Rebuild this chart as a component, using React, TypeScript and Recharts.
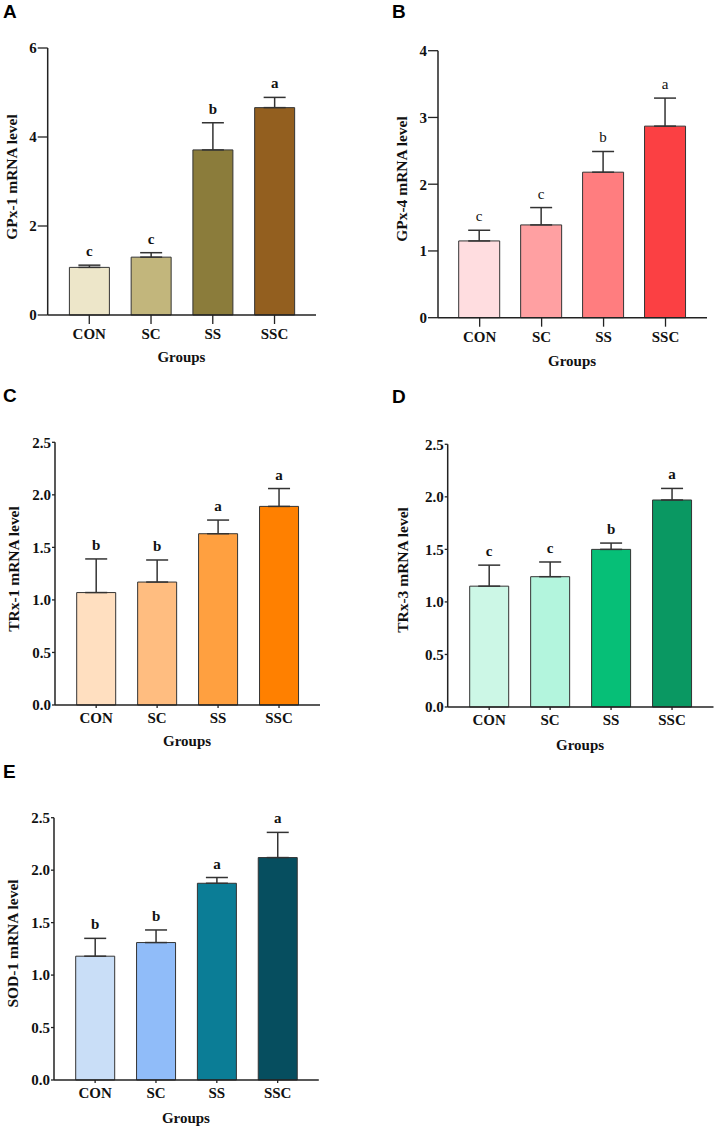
import React from "react";
import { Bar, BarChart, Cell, ErrorBar, Label, LabelList, XAxis, YAxis } from "recharts";

const groups = ["CON", "SC", "SS", "SSC"];

const gpx1Mean = [1.07, 1.3, 3.71, 4.66];
const gpx1Sd = [0.05, 0.1, 0.61, 0.23];
const gpx1Sig = ["c", "c", "b", "a"];

const gpx4Mean = [1.15, 1.39, 2.18, 2.87];
const gpx4Sd = [0.16, 0.26, 0.31, 0.42];
const gpx4Sig = ["c", "c", "b", "a"];

const trx1Mean = [1.07, 1.17, 1.63, 1.89];
const trx1Sd = [0.32, 0.21, 0.13, 0.17];
const trx1Sig = ["b", "b", "a", "a"];

const trx3Mean = [1.15, 1.24, 1.5, 1.97];
const trx3Sd = [0.2, 0.14, 0.06, 0.11];
const trx3Sig = ["c", "c", "b", "a"];

const sod1Mean = [1.18, 1.31, 1.875, 2.12];
const sod1Sd = [0.17, 0.12, 0.055, 0.24];
const sod1Sig = ["b", "b", "a", "a"];

const ticksWhole6 = [0, 2, 4, 6];
const ticksWhole4 = [0, 1, 2, 3, 4];
const ticksHalf = [0, 0.5, 1, 1.5, 2, 2.5];

const serif = "'Liberation Serif', 'Times New Roman', serif";
const sans = "'Liberation Sans', Arial, sans-serif";
const ink = "#222";

const panels = [
  {
    tag: "A", title: "GPx-1 mRNA level", mean: gpx1Mean, sd: gpx1Sd, sig: gpx1Sig,
    colors: ["#ede6c9", "#c2b67c", "#8b7c3b", "#935f1f"],
    ticks: ticksWhole6, yMax: 6, digits: 0, boldSig: true,
    ox: 0, oy: 0, h: 372, plotLeft: 47.7, plotTop: 48, plotBottom: 315, pad: 10.7, band: 61.5, barSize: 40,
    yTick: 10, xTick: 9, tagPos: [3, 18], yLab: [12, 177], groupsY: 362,
  },
  {
    tag: "B", title: "GPx-4 mRNA level", mean: gpx4Mean, sd: gpx4Sd, sig: gpx4Sig,
    colors: ["#ffdde0", "#ffa0a2", "#ff7d7f", "#fb4043"],
    ticks: ticksWhole4, yMax: 4, digits: 0, boldSig: false,
    ox: 357, oy: 0, h: 372, plotLeft: 438, plotTop: 50.7, plotBottom: 317.7, pad: 10.7, band: 61.7, barSize: 41,
    yTick: 10, xTick: 9, tagPos: [392, 18], yLab: [402, 179], groupsY: 366,
  },
  {
    tag: "C", title: "TRx-1 mRNA level", mean: trx1Mean, sd: trx1Sd, sig: trx1Sig,
    colors: ["#ffdfc0", "#ffbd80", "#ffa040", "#ff8000"],
    ticks: ticksHalf, yMax: 2.5, digits: 1, boldSig: true,
    ox: 0, oy: 360, h: 395, plotLeft: 55, plotTop: 442.3, plotBottom: 705, pad: 10.7, band: 60.7, barSize: 39,
    yTick: 3, xTick: 3, tagPos: [3, 402], yLab: [14, 569], groupsY: 746,
  },
  {
    tag: "D", title: "TRx-3 mRNA level", mean: trx3Mean, sd: trx3Sd, sig: trx3Sig,
    colors: ["#ccf7e6", "#b3f5dd", "#06bf77", "#0a9862"],
    ticks: ticksHalf, yMax: 2.5, digits: 1, boldSig: true,
    ox: 357, oy: 360, h: 395, plotLeft: 447.7, plotTop: 444.3, plotBottom: 707, pad: 11, band: 60.7, barSize: 39,
    yTick: 3, xTick: 3, tagPos: [392, 403], yLab: [403, 570], groupsY: 750,
  },
  {
    tag: "E", title: "SOD-1 mRNA level", mean: sod1Mean, sd: sod1Sd, sig: sod1Sig,
    colors: ["#c9def7", "#90bcf9", "#0b7d96", "#064e5f"],
    ticks: ticksHalf, yMax: 2.5, digits: 1, boldSig: true,
    ox: 0, oy: 740, h: 389, plotLeft: 54, plotTop: 817.7, plotBottom: 1080, pad: 10.7, band: 60.6, barSize: 39,
    yTick: 3, xTick: 3, tagPos: [3, 778], yLab: [12.5, 943.5], groupsY: 1123,
  },
];

type PanelCfg = (typeof panels)[number];

const textStyle = { fontFamily: serif, fontWeight: 700, fontSize: 15 };

function Panel({ p }: { p: PanelCfg }) {
  const data = groups.map((g, i) => ({
    group: g,
    mean: p.mean[i],
    err: [0, p.sd[i]],
    sig: p.sig[i],
  }));
  const yw = p.plotLeft - p.ox;
  const top = p.plotTop - p.oy;
  const width = p.plotLeft + 2 * p.pad + 4 * p.band - p.ox + 1;
  const xh = p.h - (p.plotBottom - p.oy);
  const midX = (p.plotLeft + p.pad + 2 * p.band) - p.ox;
  const tickStyle = { fontFamily: serif, fontWeight: 700, fontSize: 15, fill: "#111" };

  const sigLabel = (lp: any) => {
    const vb = lp.viewBox || {};
    const x = lp.x ?? vb.x;
    const y = lp.y ?? vb.y;
    const w = lp.width ?? vb.width;
    const hh = lp.height ?? vb.height;
    const i = lp.index;
    const perUnit = hh / p.mean[i];
    const capY = y - p.sd[i] * perUnit;
    return (
      <text
        x={x + w / 2}
        y={capY - 9}
        textAnchor="middle"
        fill="#111"
        style={{ ...textStyle, fontWeight: p.boldSig ? 700 : 400 }}
      >
        {lp.value}
      </text>
    );
  };

  return (
    <div style={{ position: "absolute", left: p.ox, top: p.oy }}>
      <BarChart
        width={width}
        height={p.h}
        data={data}
        margin={{ top, right: 0, bottom: 0, left: 0 }}
        barCategoryGap={0}
      >
        <XAxis
          dataKey="group"
          height={xh}
          padding={{ left: p.pad, right: p.pad }}
          tickSize={p.xTick}
          tickMargin={4.5}
          axisLine={{ stroke: ink, strokeWidth: 1.5 }}
          tickLine={{ stroke: ink, strokeWidth: 1.3 }}
          tick={tickStyle}
          interval={0}
        >
          <Label
            content={() => (
              <text x={midX} y={p.groupsY - p.oy} textAnchor="middle" fill="#111" style={textStyle}>
                Groups
              </text>
            )}
          />
        </XAxis>
        <YAxis
          type="number"
          width={yw}
          domain={[0, p.yMax]}
          ticks={p.ticks}
          interval={0}
          tickSize={p.yTick}
          tickMargin={1}
          tickFormatter={(v: number) => v.toFixed(p.digits)}
          axisLine={{ stroke: ink, strokeWidth: 1.5 }}
          tickLine={{ stroke: ink, strokeWidth: 1.3 }}
          tick={tickStyle}
        >
          <Label
            content={() => {
              const lx = p.yLab[0] - p.ox;
              const ly = p.yLab[1] - p.oy;
              return (
                <g>
                  <text
                    x={p.tagPos[0] - p.ox}
                    y={p.tagPos[1] - p.oy}
                    fill="#000"
                    style={{ fontFamily: sans, fontWeight: 700, fontSize: 19 }}
                  >
                    {p.tag}
                  </text>
                  <text
                    transform={`translate(${lx},${ly}) rotate(-90)`}
                    dy="0.35em"
                    textAnchor="middle"
                    fill="#111"
                    style={{ ...textStyle, fontSize: 15.5 }}
                  >
                    {p.title}
                  </text>
                </g>
              );
            }}
          />
        </YAxis>
        <Bar dataKey="mean" barSize={p.barSize} stroke="#333" strokeWidth={1} isAnimationActive={false}>
          {data.map((_, i) => (
            <Cell key={i} fill={p.colors[i]} />
          ))}
          <ErrorBar dataKey="err" direction="y" width={11} stroke="#333" strokeWidth={1.5} isAnimationActive={false} />
          <LabelList dataKey="sig" content={sigLabel} />
        </Bar>
      </BarChart>
    </div>
  );
}

export default function App() {
  return (
    <div style={{ position: "absolute", left: 0, top: 0, width: 714, height: 1129, background: "#fff" }}>
      {panels.map((p) => (
        <Panel key={p.tag} p={p} />
      ))}
    </div>
  );
}
